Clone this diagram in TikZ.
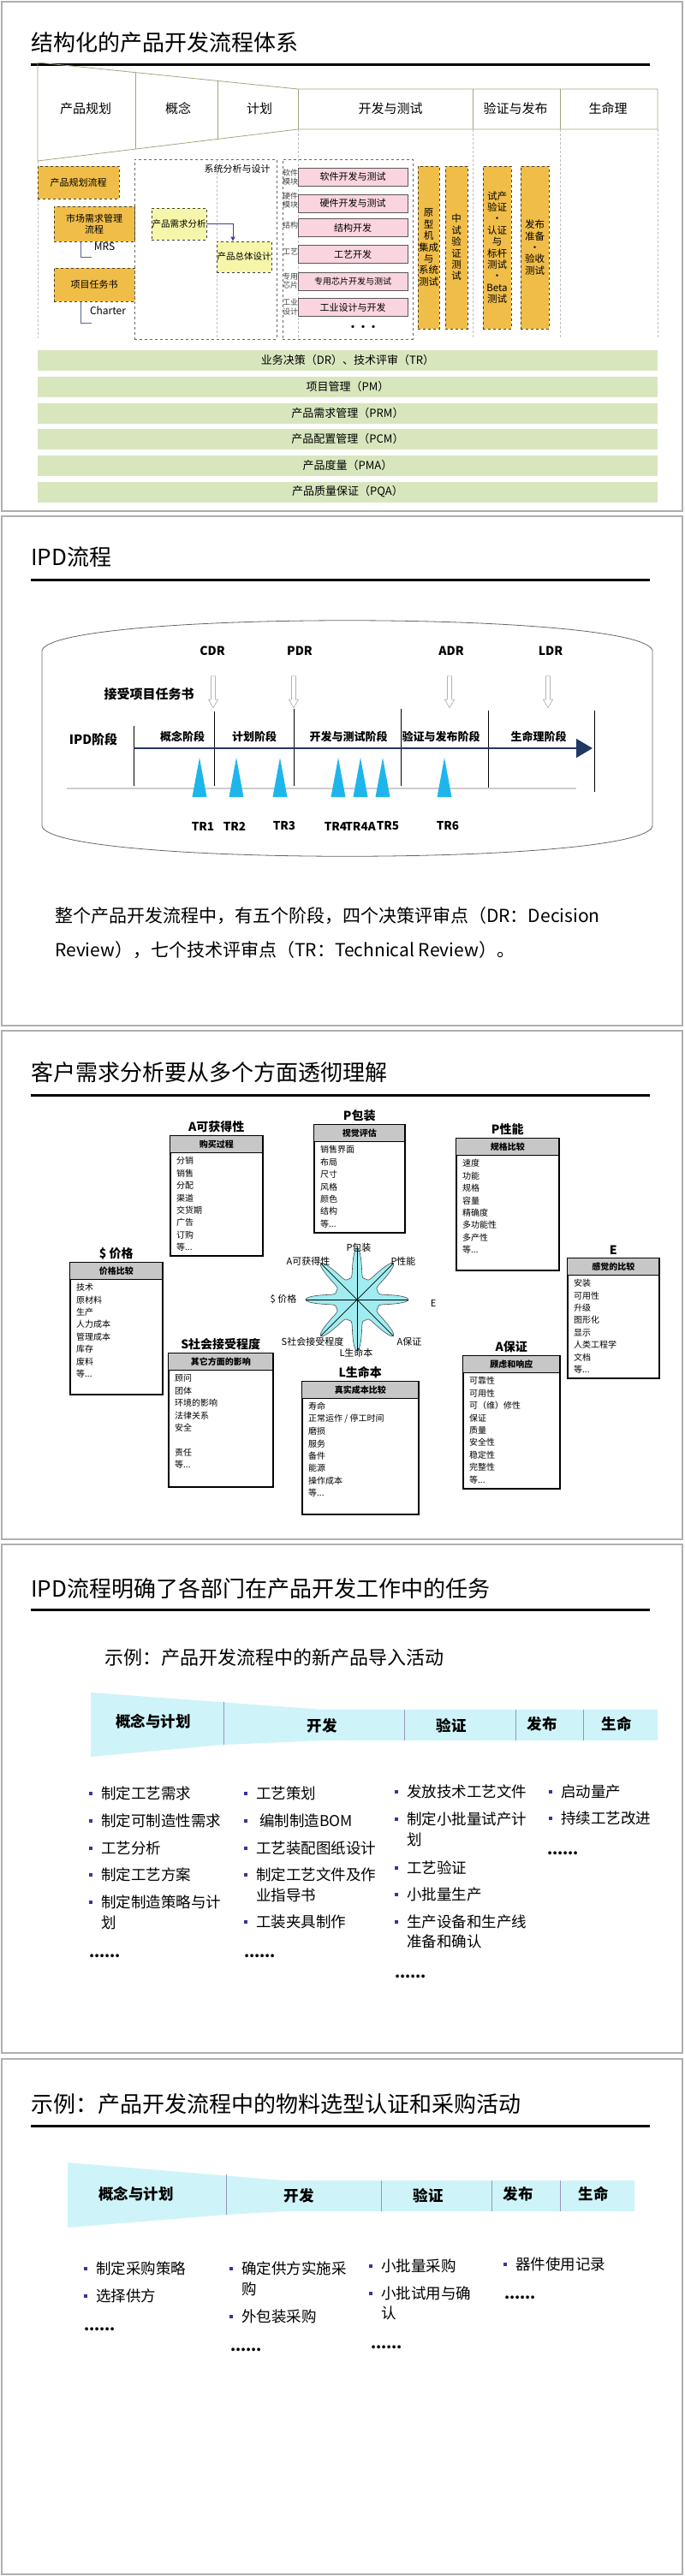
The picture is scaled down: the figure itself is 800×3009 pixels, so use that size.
\documentclass[tikz,border=0pt]{standalone}
\usepackage{fontspec}
\setmainfont{Noto Sans CJK SC}
\usetikzlibrary{positioning, arrows.meta, shapes.arrows}

\definecolor{frame}{RGB}{175,175,175}
\definecolor{funnel}{RGB}{165,165,125}
\definecolor{gold}{RGB}{240,189,72}
\definecolor{pale}{RGB}{246,246,170}
\definecolor{pink}{RGB}{250,212,222}
\definecolor{sage}{RGB}{216,230,190}
\definecolor{navy}{RGB}{31,56,100}
\definecolor{sky}{RGB}{30,182,234}
\definecolor{aqua}{RGB}{160,236,240}
\definecolor{band}{RGB}{206,244,250}
\definecolor{bulletblue}{RGB}{52,52,160}
\definecolor{divider}{RGB}{150,150,185}

\newcommand\fs[1]{\fontsize{#1}{#1}\selectfont}
\newcommand\etcmark{等...}

\tikzset{
  slidebox/.style={draw=frame, line width=1.5pt},
  heading/.style={anchor=west, inner sep=0pt, font=\fs{26}},
  rulebar/.style={line width=3pt},
  funnelline/.style={draw=funnel, line width=0.8pt},
  phase/.style={font=\fs{15}},
  guide/.style={draw=black!25, densely dashed, line width=0.6pt},
  golddash/.style={draw=black!75, dashed, fill=gold, line width=0.8pt, inner sep=1pt,
    align=center, font=\fontsize{11}{13}\selectfont},
  paledash/.style={golddash, fill=pale, inner sep=0pt, font=\fs{10.5}},
  groupbox/.style={draw=black!60, dashed, line width=0.8pt},
  pinkbox/.style={draw=black!65, fill=pink, line width=0.8pt, minimum width=128pt,
    minimum height=21pt, font=\fs{11}},
  sidelab/.style={anchor=west, inner sep=0pt, align=left, font=\fontsize{9}{10.5}\selectfont, text=black!75},
  tallbox/.style={golddash, minimum height=190pt, font=\fontsize{11.5}{13.4}\selectfont},
  layer/.style={fill=sage, minimum width=724pt, minimum height=24pt, font=\fs{13}},
  smalllab/.style={font=\fs{12}, inner sep=0pt},
  bracket/.style={draw={rgb,255:red,90;green,100;blue,150}, line width=0.8pt},
  flow/.style={draw={rgb,255:red,60;green,60;blue,180}, line width=0.8pt, -{Triangle[length=5pt,width=5pt]}},
  barrel/.style={draw=black!60, line width=0.8pt},
  drlab/.style={font=\bfseries\fs{14}},
  hollow/.style={single arrow, draw=black!45, fill=white, shape border rotate=270, minimum height=37pt,
    inner sep=2.4pt, single arrow head extend=3pt, single arrow tip angle=60},
  boldlab/.style={font=\bfseries\fs{15}},
  stagelab/.style={font=\bfseries\fs{13}},
  divline/.style={line width=1pt},
  timeline/.style={draw=navy, line width=1.8pt, -{Triangle[length=19pt, width=22pt]}},
  groundline/.style={draw=black!20, line width=1.5pt},
  trlab/.style={font=\bfseries\fs{13.5}},
  para/.style={anchor=west, inner sep=0pt, font=\fs{21}},
  card/.style={draw, line width=1.5pt, fill=white, anchor=north west},
  cardhead/.style={draw, line width=1pt, fill=black!22, minimum height=20pt, anchor=north,
    font=\bfseries\fs{10}},
  cardtitle/.style={anchor=south, inner sep=1pt, font=\bfseries\fs{14}},
  carditem/.style={anchor=west, inner sep=0pt, font=\fs{10}},
  starlab/.style={font=\fs{11}, inner sep=0pt},
  bandsep/.style={draw=divider, line width=1pt},
  bandlab/.style={font=\bfseries\fs{17.5}},
  item/.style={anchor=west, inner sep=0pt, font=\fs{17.5}},
  bulitem/.style={item, label={[fill=bulletblue, inner sep=0pt, minimum size=4pt, label distance=10pt]left:{}}},
  more/.style={anchor=base west, inner sep=0pt, font=\bfseries\fs{17.5}},
  declare function={petal(\a)=26+34*(0.5+0.5*cos(8*\a))*(0.5+0.5*cos(8*\a))*(0.5+0.5*cos(8*\a));}
}

\newcommand\needcard[8]{%
  \node[card, minimum width=#4pt, minimum height=#5pt] (#1) at (#2,#3) {};
  \node[cardhead, minimum width=#4pt] (#1h) at (#1.north) {#7};
  \node[cardtitle] (#1t) at ([yshift=2pt]#1.north) {#6};
  \foreach \t [count=\i] in {#8}
    \node[carditem] (#1\i) at ([xshift=8pt, yshift={-(30+14.4*(\i-1))*1pt}]#1.north west) {\t};
}

\begin{document}
\begin{tikzpicture}[x=1pt, y=-1pt]
\useasboundingbox (0,0) rectangle (800,3009);

\foreach \top/\bot in {2/597, 603/1198, 1204/1798, 1804/2398, 2405/3007}
  \draw[slidebox] (2,\top) rectangle (797,\bot);

\node[heading] (t1) at (36,50) {结构化的产品开发流程体系};
\draw[rulebar] (36,75) -- (759,75);

\draw[funnelline] (44,73) -- (348,104) -- (768,104) -- (768,151) -- (348,151) -- (44,188) -- cycle;
\draw[funnelline] (158,84.6) -- (158,174.1) (254,94.4) -- (254,162.4)
  (348,104) -- (348,151) (552,104) -- (552,151) (654,104) -- (654,151);
\foreach \x/\t [count=\i] in {100/产品规划, 208/概念, 303/计划, 456/开发与测试, 602/验证与发布, 710/生命理}
  \node[phase] (ph\i) at (\x,127) {\t};
\draw[guide] (44,188) -- (44,395);
\foreach \x in {348,552,654,768}
  \draw[guide] (\x,151) -- (\x,395);

\node[golddash, minimum width=95pt, minimum height=38pt] (pplan) at (91.5,213) {产品规划流程};
\node[golddash, minimum width=94pt, minimum height=41pt] (mrm) at (110,261.5) {市场需求管理\\流程};
\node[golddash, minimum width=94pt, minimum height=39pt] (task) at (110,332.5) {项目任务书};
\node[smalllab] (mrs) at (122,288) {MRS};
\node[smalllab] (chtr) at (126,363) {Charter};
\coordinate (mrsend) at (107,300);
\coordinate (chtrend) at (107,377);
\draw[bracket] ([xshift=-16pt]mrm.south) |- (mrsend);
\draw[bracket] ([xshift=-16pt]task.south) |- (chtrend);

\node[groupbox, minimum width=166pt, minimum height=210pt] (sysgrp) at (240,291) {};
\node[smalllab, font=\fs{11}] (syslab) at (277,197) {系统分析与设计};
\draw[guide] (253,186) -- (253,396);
\node[paledash, minimum width=64pt, minimum height=37pt] (prd) at (209,261.5) {产品需求分析};
\node[paledash, minimum width=64pt, minimum height=36pt] (arch) at (285,300) {产品总体设计};
\draw[flow] (prd.east) -| ([xshift=-13pt]arch.north);

\node[groupbox, minimum width=152pt, minimum height=210pt] (devgrp) at (406,291) {};
\foreach \y/\t [count=\i] in {207/软件\\模块, 234/硬件\\模块, 263/结构, 294/工艺, 328/专用\\芯片, 358.5/工业\\设计}
  \node[sidelab] (side\i) at (330,\y) {\t};
\foreach \y/\t [count=\i] in {206.5/软件开发与测试, 237.5/硬件开发与测试, 266/结构开发, 297/工艺开发,
    328.5/{\fs{10}专用芯片开发与测试}, 359/工业设计与开发}
  \node[pinkbox] (dev\i) at (412,\y) {\t};
\node[font=\bfseries\fs{12}] (devmore) at (424,383) {•••};

\node[tallbox, minimum width=25pt] (proto) at (500.5,289) {原\\型\\机\\集成\\与\\系统\\测试};
\node[tallbox, minimum width=26pt] (pilot) at (533,289) {中\\试\\验\\证\\测\\试};
\node[tallbox, minimum width=33pt] (trial) at (580.5,289) {试产\\验证\\·\\认证\\与\\标杆\\测试\\·\\Beta\\测试};
\node[tallbox, minimum width=33pt] (launch) at (624.5,289) {发布\\准备\\·\\验收\\测试};

\foreach \y/\t [count=\i] in {421/业务决策（DR）、技术评审（TR）, 451.5/项目管理（PM）, 482.5/产品需求管理（PRM）,
    513/产品配置管理（PCM）, 544/产品度量（PMA）, 574.5/产品质量保证（PQA）}
  \node[layer] (layer\i) at (406,\y) {\t};

\node[heading] (t2) at (36,651) {IPD流程};
\draw[rulebar] (36,677) -- (759,677);
\draw[barrel] (49,760) .. controls (60,713) and (751,713) .. (762,760) -- (762,965)
  .. controls (751,1012) and (60,1012) .. (49,965) -- cycle;
\foreach \x/\t in {248/CDR, 350/PDR, 527/ADR, 643/LDR}
  \node[drlab] (\t) at (\x,760) {\t};
\foreach \x/\n in {249/cdra, 343/pdra, 525/adra, 640/ldra}
  \node[hollow] (\n) at (\x,806) {};
\node[boldlab] (accept) at (174,811) {接受项目任务书};
\node[boldlab] (ipd) at (109,864) {IPD阶段};
\foreach \x/\a/\b in {156/848/918, 250/831/918, 343/828/918, 468/828/918, 570/830/920, 694/830/925}
  \draw[divline] (\x,\a) -- (\x,\b);
\foreach \x/\t [count=\i] in {213/概念阶段, 297/计划阶段, 407/开发与测试阶段, 515/验证与发布阶段, 629/生命理阶段}
  \node[stagelab] (st\i) at (\x,860) {\t};
\coordinate (tl0) at (156,874);
\coordinate (tl1) at (692,874);
\draw[timeline] (tl0) -- (tl1);
\draw[groundline] (78,921) -- (673,921);
\foreach \x in {233,276,327,395,421,447,519}
  \fill[sky] (\x-8.5,931) -- (\x,885) -- (\x+8.5,931) -- cycle;
\foreach \x/\t in {237/TR1, 274/TR2, 332/TR3, 392/TR4, 421/TR4A, 453/TR5, 523/TR6}
  \node[trlab] (\t) at (\x,965) {\t};
\node[para] (para1) at (64,1070) {整个产品开发流程中，有五个阶段，四个决策评审点（DR：Decision};
\node[para] (para2) at (64,1110) {Review），七个技术评审点（TR：Technical Review）。};

\node[heading] (t3) at (36,1253) {客户需求分析要从多个方面透彻理解};
\draw[rulebar] (36,1279) -- (759,1279);
\needcard{avail}{198}{1326}{108}{140}{A可获得性}{购买过程}{分销,销售,分配,渠道,交货期,广告,订购,\etcmark}
\needcard{pack}{366}{1313}{106}{126}{P包装}{视觉评估}{销售界面,布局,尺寸,风格,颜色,结构,\etcmark}
\needcard{perf}{532}{1329}{120}{154}{P性能}{规格比较}{速度,功能,规格,容量,精确度,多功能性,多产性,\etcmark}
\needcard{price}{81}{1474}{108}{154}{\$ 价格}{价格比较}{技术,原材料,生产,人力成本,管理成本,库存,废料,\etcmark}
\needcard{ease}{662}{1469}{107}{140}{E}{感觉的比较}{安装,可用性,升级,图形化,显示,人类工程学,文档,\etcmark}
\needcard{social}{196}{1580}{122}{156}{S社会接受程度}{其它方面的影响}{顾问,团体,环境的影响,法律关系,安全,{},责任,\etcmark}
\needcard{life}{352}{1613}{136}{155}{L生命本}{真实成本比较}{寿命,正常运作 / 停工时间,磨损,服务,备件,能源,操作成本,\etcmark}
\needcard{assur}{540}{1583}{113}{155}{A保证}{顾虑和响应}{可靠性,可用性,可（维）修性,保证,质量,安全性,稳定性,完整性,\etcmark}

\begin{scope}[shift={(417,1518)}]
  \draw[fill=aqua, draw=black!70, line width=0.6pt]
    plot[domain=0:360, samples=361, variable=\a] ({petal(\a)*cos(\a)}, {petal(\a)*sin(\a)}) -- cycle;
  \foreach \a in {0,45,90,135}
    \draw[line width=0.7pt] (\a:60) -- (\a+180:60);
\end{scope}
\foreach \x/\y/\t/\n in {419/1457/P包装/s1, 360/1473/A可获得性/s2, 471/1473/P性能/s3, 331/1518/\$ 价格/s4,
    506/1522/E/s5, 365/1567/S社会接受程度/s6, 478/1567/A保证/s7, 416/1580/L生命本/s8}
  \node[starlab] (\n) at (\x,\y) {\t};

\node[heading] (t4) at (36,1856) {IPD流程明确了各部门在产品开发工作中的任务};
\draw[rulebar] (36,1880) -- (759,1880);
\node[anchor=west, inner sep=0pt, font=\fs{22}] (sub4) at (122,1936) {示例：产品开发流程中的新产品导入活动};
\fill[band] (106,1977) -- (378,1997) -- (768,1997) -- (768,2033) -- (378,2033) -- (261,2038) -- (106,2052) -- cycle;
\draw[bandsep] (261,1988) -- (261,2038) (472,1997) -- (472,2033) (602,1997) -- (602,2033) (681,1997) -- (681,2033);
\foreach \x/\y/\t [count=\i] in {179/2011/概念与计划, 376/2016/开发, 527/2016/验证, 633/2014/发布, 720/2014/生命}
  \node[bandlab] (ba\i) at (\x,\y) {\t};

\foreach \y/\t [count=\i] in {2095/制定工艺需求, 2127/制定可制造性需求, 2159/工艺分析, 2190/制定工艺方案, 2222/制定制造策略与计}
  \node[bulitem] (na\i) at (118,\y) {\t};
\node[item] (na6) at (118,2246) {划};
\node[more] (na7) at (104,2286) {......};
\foreach \y/\t [count=\i] in {2095/工艺策划, 2127/\ 编制制造BOM, 2159/工艺装配图纸设计, 2190/制定工艺文件及作, 2245/工装夹具制作}
  \node[bulitem] (nb\i) at (299,\y) {\t};
\node[item] (nb6) at (299,2214) {业指导书};
\node[more] (nb7) at (285,2286) {......};
\foreach \y/\t [count=\i] in {2093/发放技术工艺文件, 2125/制定小批量试产计, 2182/工艺验证, 2213/小批量生产, 2245/生产设备和生产线}
  \node[bulitem] (nc\i) at (475,\y) {\t};
\node[item] (nc6) at (475,2149) {划};
\node[item] (nc7) at (475,2268) {准备和确认};
\node[more] (nc8) at (461,2310) {......};
\foreach \y/\t [count=\i] in {2093/启动量产, 2124/持续工艺改进}
  \node[bulitem] (nd\i) at (655,\y) {\t};
\node[more] (nd3) at (639,2166) {......};

\node[heading] (t5) at (36,2458) {示例：产品开发流程中的物料选型认证和采购活动};
\draw[rulebar] (36,2483) -- (759,2483);
\fill[band] (79,2526) -- (332,2547) -- (741,2547) -- (741,2583) -- (332,2583) -- (264,2587) -- (79,2602) -- cycle;
\draw[bandsep] (264,2540) -- (264,2587) (445,2547) -- (445,2583) (574,2547) -- (574,2583) (654,2547) -- (654,2583);
\foreach \x/\y/\t [count=\i] in {159/2563/概念与计划, 349/2565/开发, 500/2565/验证, 605/2563/发布, 693/2563/生命}
  \node[bandlab] (bb\i) at (\x,\y) {\t};

\foreach \y/\t [count=\i] in {2650/制定采购策略, 2682/选择供方}
  \node[bulitem] (pa\i) at (112,\y) {\t};
\node[more] (pa3) at (98,2722) {......};
\foreach \y/\t [count=\i] in {2650/确定供方实施采, 2706/外包装采购}
  \node[bulitem] (pb\i) at (282,\y) {\t};
\node[item] (pb3) at (282,2674) {购};
\node[more] (pb4) at (269,2746) {......};
\foreach \y/\t [count=\i] in {2647/小批量采购, 2679/小批试用与确}
  \node[bulitem] (pc\i) at (445,\y) {\t};
\node[item] (pc3) at (445,2702) {认};
\node[more] (pc4) at (433,2743) {......};
\node[bulitem] (pd1) at (602,2645) {器件使用记录};
\node[more] (pd2) at (589,2685) {......};
\end{tikzpicture}
\end{document}
